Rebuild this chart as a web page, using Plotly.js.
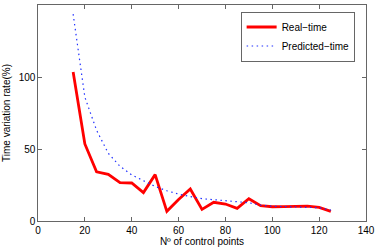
<!DOCTYPE html>
<html>
<head>
<meta charset="utf-8">
<script src="https://cdn.plot.ly/plotly-3.0.1.min.js"></script>
<style>html,body{margin:0;padding:0;background:#fff;}#chart{width:375px;height:251px;}</style>
</head>
<body>
<div id="chart"></div>
<script>
var controlPoints = [15,20,25,30,35,40,45,50,55,60,65,70,75,80,85,90,95,100,105,110,115,120,125];
var realTime = [103.5,53.5,34.2,32.4,26.6,26.4,19.7,32.2,6.7,15,22.2,8.1,13,11.8,8.8,15.5,10.6,9.9,10,10,10.3,9.5,6.7];
var predictedTime = [143.7,86,63,47,38,32,28,24,21,18.7,17,15.5,14.8,14.2,13.4,12.7,11,10.2,10,9.8,9.6,9.2,7.6];
var xTicks = [0,20,40,60,80,100,120,140];
var yTicks = [0,50,100,150];

var traces = [
  {x: controlPoints, y: realTime, name: 'Real\u2212time', mode: 'lines',
   line: {color: '#ff0000', width: 2.8}},
  {x: controlPoints, y: predictedTime, name: 'Predicted\u2212time', mode: 'lines',
   line: {color: '#2030ff', width: 1.2, dash: '1.5px,3.5px'}}
];
var axisCommon = {
  showline: true, mirror: 'ticks', linecolor: '#000', linewidth: 0.6,
  ticks: 'inside', ticklen: 4, tickcolor: '#000', tickwidth: 0.6,
  showgrid: false, zeroline: false,
  tickfont: {family: 'Liberation Sans, Arial, sans-serif', size: 10, color: '#000'}
};
var layout = {
  width: 375, height: 251,
  margin: {l: 37.5, r: 9, t: 5, b: 30},
  paper_bgcolor: '#fff', plot_bgcolor: '#fff',
  showlegend: true,
  legend: {x: 0.619, y: 0.968, xanchor: 'left', yanchor: 'top',
    bgcolor: '#fff', bordercolor: '#000', borderwidth: 0.6,
    font: {family: 'Liberation Sans, Arial, sans-serif', size: 10, color: '#000'},
    tracegroupgap: 0, itemwidth: 30},
  xaxis: Object.assign({}, axisCommon, {range: [0,140], tickvals: xTicks,
    title: {text: 'N\u00ba of control points', standoff: 2,
      font: {family: 'Liberation Sans, Arial, sans-serif', size: 10, color: '#000'}}}),
  yaxis: Object.assign({}, axisCommon, {range: [0,150], tickvals: yTicks,
    title: {text: 'Time variation rate(%)', standoff: 6,
      font: {family: 'Liberation Sans, Arial, sans-serif', size: 10, color: '#000'}}})
};
Plotly.newPlot('chart', traces, layout, {staticPlot: true, displayModeBar: false});
</script>
</body>
</html>
